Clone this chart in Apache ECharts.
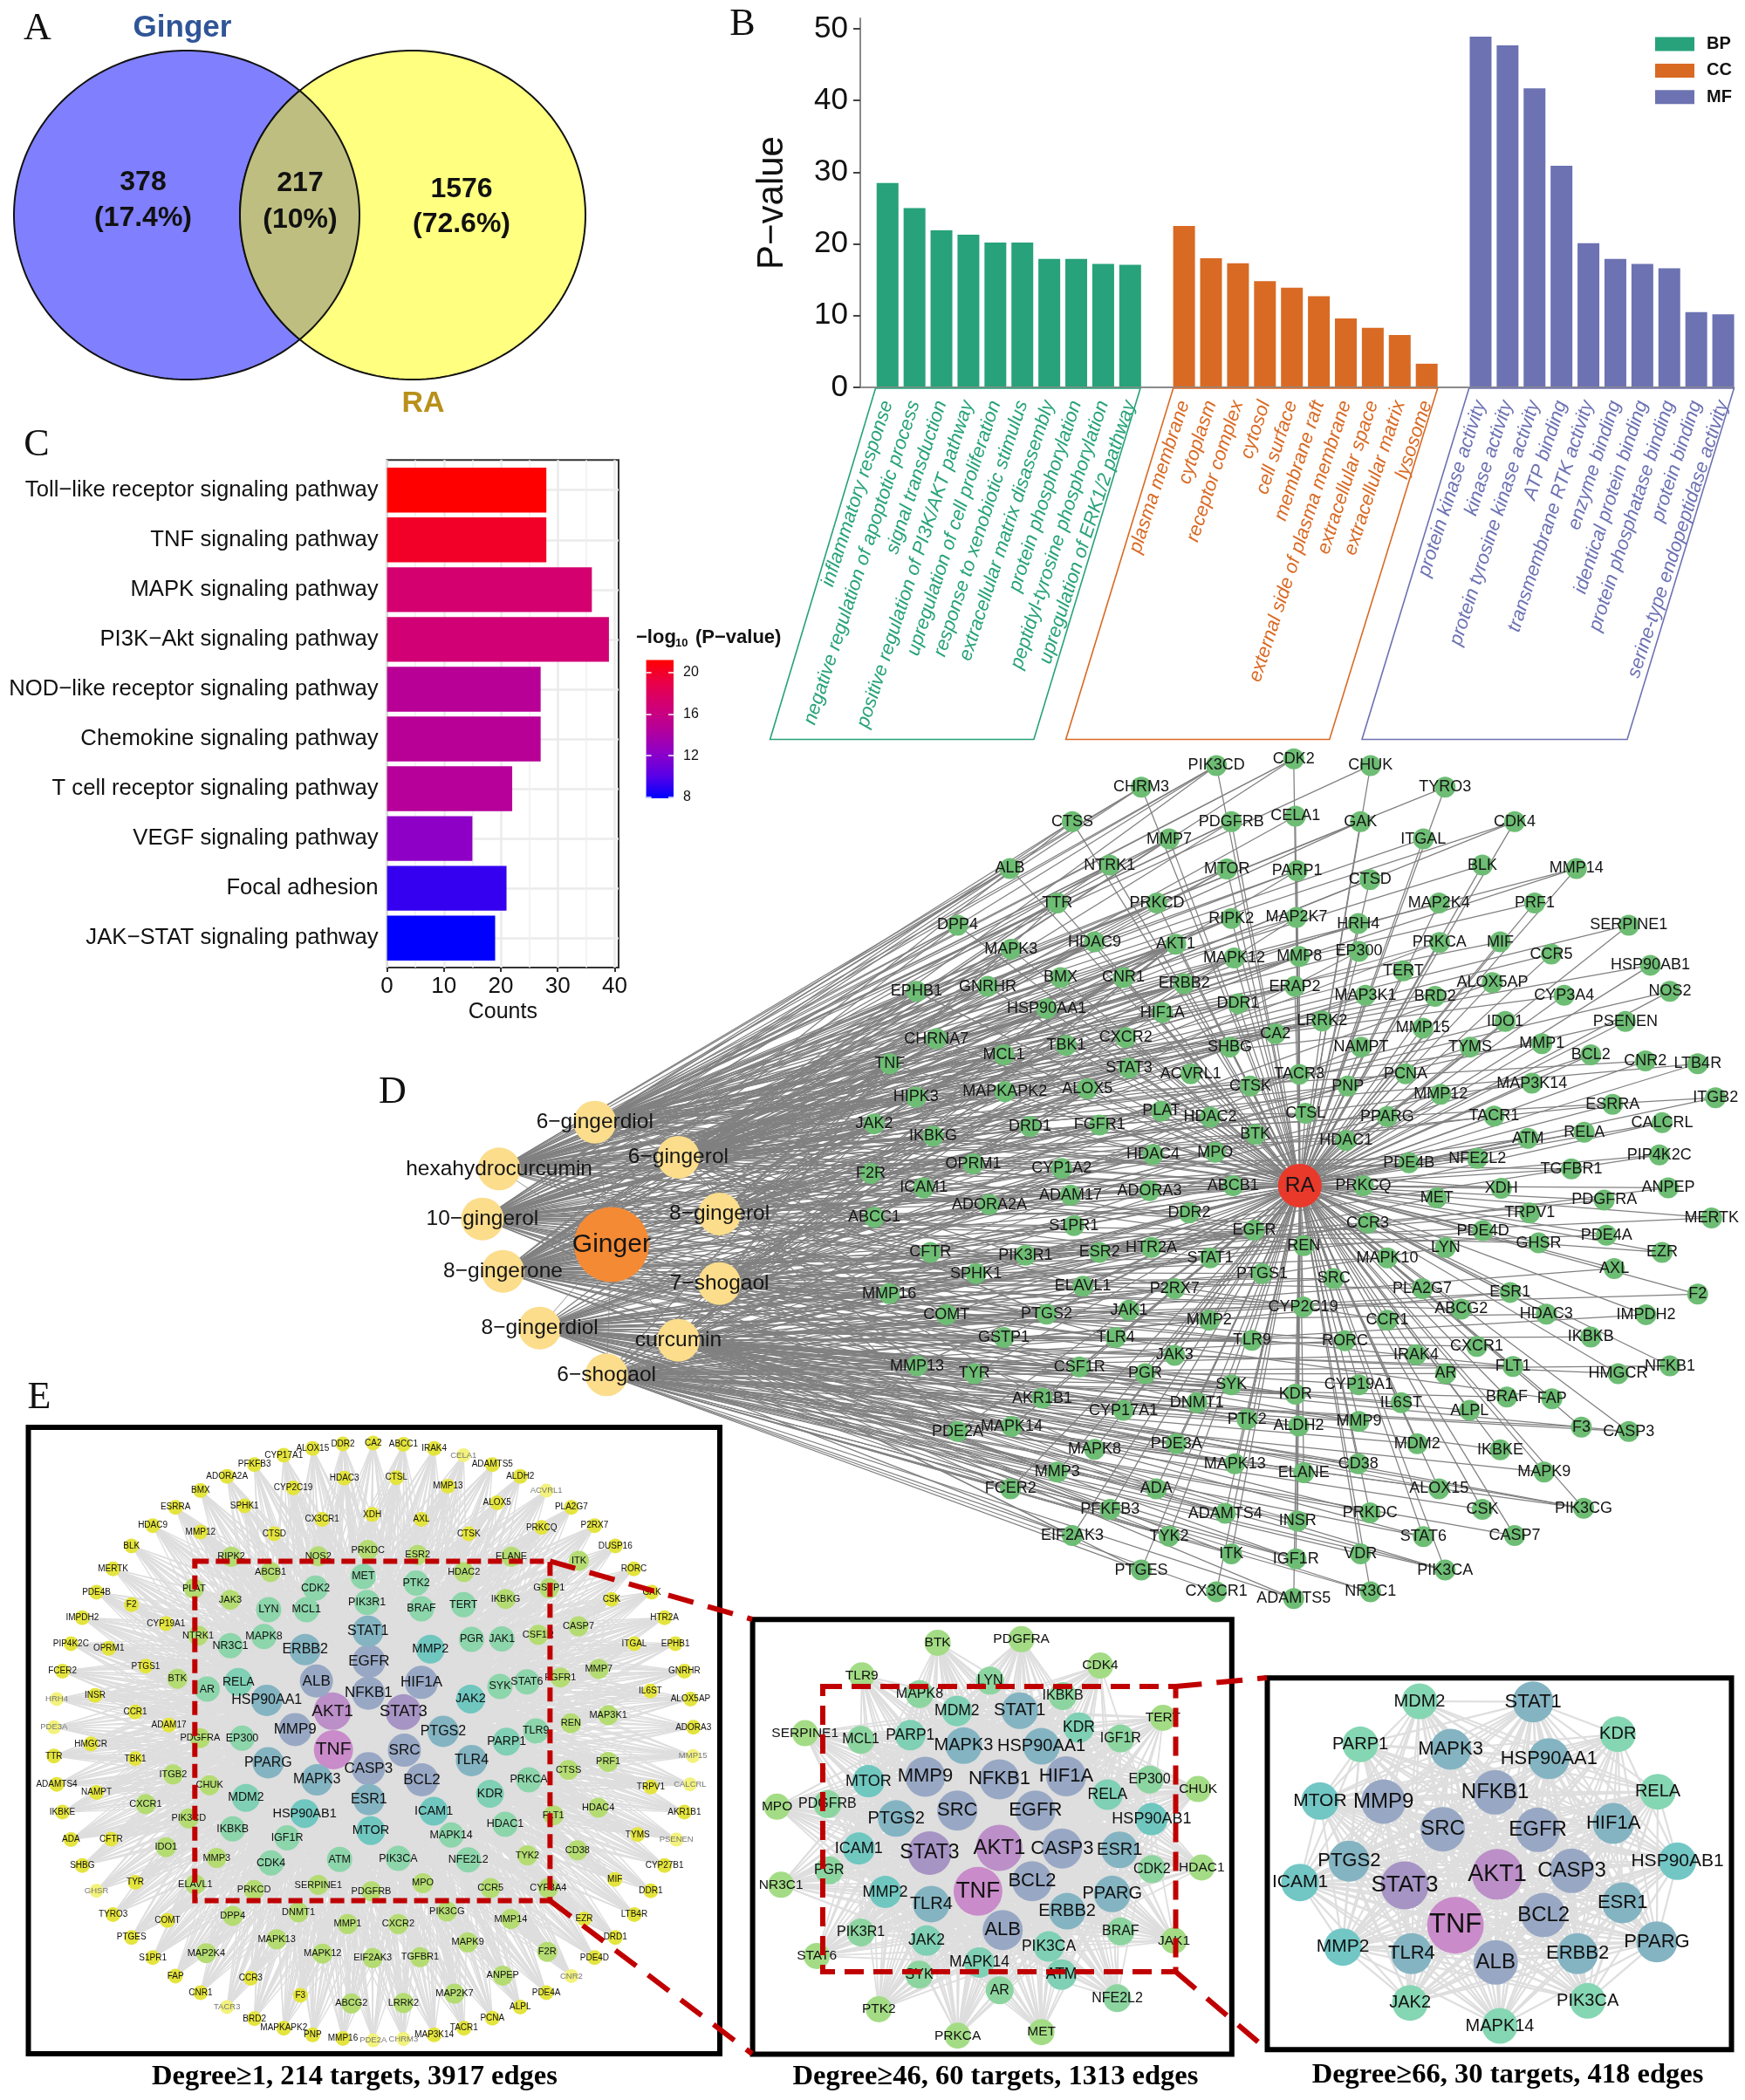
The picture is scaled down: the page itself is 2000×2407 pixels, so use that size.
<!DOCTYPE html>
<html><head><meta charset="utf-8">
<style>html,body{margin:0;padding:0;background:#fff}#c{width:2000px;height:2407px}</style>
<script src="https://cdn.jsdelivr.net/npm/echarts@6/dist/echarts.min.js"></script>
</head><body><div id="c"></div>
<script>
// ---------- Panel A ----------
const vennNames = ['Ginger', 'RA'];
const vennCounts = ['378', '1576', '217'];
const vennShares = ['(17.4%)', '(72.6%)', '(10%)'];
// ---------- Panel B ----------
const bpTerms = ['inflammatory response','negative regulation of apoptotic process','signal transduction','positive regulation of PI3K/AKT pathway','upregulation of cell proliferation','response to xenobiotic stimulus','extracellular matrix disassembly','protein phosphorylation','peptidyl-tyrosine phosphorylation','upregulation of ERK1/2 pathway'];
const bpValues = [28.5,25,21.9,21.3,20.2,20.2,17.9,17.9,17.2,17.1];
const ccTerms = ['plasma membrane','cytoplasm','receptor complex','cytosol','cell surface','membrane raft','external side of plasma membrane','extracellular space','extracellular matrix','lysosome'];
const ccValues = [22.5,18,17.3,14.8,13.9,12.7,9.6,8.3,7.3,3.3];
const mfTerms = ['protein kinase activity','kinase activity','protein tyrosine kinase activity','ATP binding','transmembrane RTK activity','enzyme binding','identical protein binding','protein phosphatase binding','protein binding','serine-type endopeptidase activity'];
const mfValues = [48.9,47.7,41.7,30.9,20.1,17.9,17.2,16.6,10.5,10.2];
const pTicks = [0,10,20,30,40,50];
// ---------- Panel C ----------
const pathways = ['Toll\u2212like receptor signaling pathway','TNF signaling pathway','MAPK signaling pathway','PI3K\u2212Akt signaling pathway','NOD\u2212like receptor signaling pathway','Chemokine signaling pathway','T cell receptor signaling pathway','VEGF signaling pathway','Focal adhesion','JAK\u2212STAT signaling pathway'];
const pathwayCounts = [28,28,36,39,27,27,22,15,21,19];
const pathwayLogP = [21.2,20,17,16.8,14.8,14.8,14.6,12.3,9.2,7.9];
const countTicks = [0,10,20,30,40];
const logPTicks = [8,12,16,20];
// ---------- Panel D ----------
const compounds = [['6\u2212gingerdiol',-499,684],['hexahydrocurcumin',-671,768],['6\u2212gingerol',-349,747],['10\u2212gingerol',-701,858],['8\u2212gingerol',-275,849],['8\u2212gingerone',-664,952],['7\u2212shogaol',-275,974],['8\u2212gingerdiol',-598,1054],['curcumin',-349,1076],['6\u2212shogaol',-478,1138]];
const gingerHub = ['Ginger',-469,904];
const raHub = ['RA',768,798];
// name, x, y, linked compounds (a..j = order of the compounds list)
const dTargets = [
['PIK3CD',618,43,'abcd'],['CDK2',757,31,'abf'],['CHUK',895,43,'a'],['TYRO3',1029,82,'b'],['CHRM3',483,82,'abd'],['CTSS',359,144,'adf'],['MMP7',533,175,'acd'],['PDGFRB',645,144,'abf'],['CELA1',760,134,'c'],['GAK',877,144,'bd'],['ITGAL',990,175,'a'],['CDK4',1154,144,'ac'],
['ALB',247,228,'abd'],['NTRK1',426,222,'abfd'],['MTOR',637,229,'abcf'],['PARP1',763,232,'aeb'],['CTSD',894,248,'c'],['BLK',1096,222,'b'],['MMP14',1265,228,'ad'],['TTR',332,290,'abcef'],['PRKCD',511,290,'acdb'],['RIPK2',645,318,'bcd'],['MAP2K7',762,316,'agc'],['HRH4',873,327,'d'],['MAP2K4',1018,290,'b'],['PRF1',1190,290,'a'],['SERPINE1',1359,330,'c'],
['DPP4',153,330,'abdf'],['MAPK3',249,373,'abcedf'],['HDAC9',399,360,'acfb'],['AKT1',545,364,'abcdefghij'],['MAPK12',650,389,'bdec'],['MMP8',767,386,'acf'],['EP300',874,377,'bg'],['PRKCA',1019,361,'ce'],['MIF',1128,360,'a'],['CCR5',1220,382,'d'],['HSP90AB1',1398,402,'b'],['NOS2',1433,449,'e'],['EPHB1',79,449,'abcd'],['GNRHR',207,440,'acdf'],['BMX',338,424,'bcfa'],['CNR1',451,424,'abed'],['ERBB2',560,435,'bcfiad'],['ERAP2',759,440,'adb'],['TERT',954,412,'c'],['ALOX5AP',1114,433,'bh'],['CYP3A4',1243,456,'a'],['MAP3K1',886,456,'de'],['BRD2',1011,458,'c'],
['HIF1A',521,487,'abdgfc'],['DDR1',657,471,'cea'],['HSP90AA1',313,480,'abdfice'],['PSENEN',1353,503,'f'],['IDO1',1137,503,'e'],['LRRK2',808,502,'bda'],['MMP15',989,515,'a'],['CHRNA7',115,534,'abef'],['MCL1',236,563,'bcfjad'],['TBK1',348,546,'adeb'],['CXCR2',455,532,'cfga'],['SHBG',642,549,'bhd'],['CA2',724,525,'adef'],['NAMPT',878,549,'i'],['TYMS',1074,549,'g'],['MMP1',1203,543,'c'],['BCL2',1291,563,'j'],['CNR2',1389,574,'a'],['LTB4R',1483,579,'b'],
['TNF',31,579,'abcdefghij'],['STAT3',461,587,'abcehfj'],['ACVRL1',572,597,'dfa'],['TACR3',767,598,'eb'],['PNP',854,619,'bh'],['PCNA',958,597,'f'],['MAP3K14',1185,614,'d'],['CTSK',679,619,'cgb'],['HIPK3',78,639,'bdea'],['MAPKAPK2',238,629,'acfgdh'],['ALOX5',386,624,'abjf'],['MMP12',1021,634,'h'],['ITGB2',1515,640,'c'],['ESRRA',1330,652,'d'],['PLAT',519,664,'efhb'],['HDAC2',607,675,'bcif'],['CTSL',778,668,'ad'],['PPARG',925,674,'bg'],['TACR1',1117,673,'e'],['CALCRL',1419,685,'i'],['JAK2',3,687,'acdfhbg'],['IKBKG',109,709,'bcgd'],['DRD1',283,692,'adfc'],['FGFR1',408,689,'ceid'],['BTK',688,706,'bdjf'],['ATM',1178,713,'f'],['RELA',1279,702,'g'],['HDAC1',851,717,'c'],
['HDAC4',504,742,'abhg'],['MPO',616,738,'dgf'],['PIP4K2C',1414,743,'h'],['OPRM1',181,759,'behd'],['CYP1A2',340,767,'acfibh'],['PDE4B',964,757,'d'],['NFE2L2',1087,749,'be'],['TGFBR1',1256,768,'c'],['F2R',-3,776,'abefid'],['ABCB1',648,798,'cfhd'],['ICAM1',92,802,'bdghf'],['ADORA3',498,807,'aejd'],['ADAM17',356,815,'cdif'],['PRKCQ',882,798,'f'],['MET',1014,820,'i'],['XDH',1130,803,'a'],['ANPEP',1430,802,'h'],['ADORA2A',210,832,'bfjd'],['PDGFRA',1315,824,'g'],['ABCC1',3,855,'acdghjbf'],['DDR2',569,847,'beid'],['S1PR1',362,870,'dfhg'],['CCR3',890,865,'j'],['TRPV1',1181,847,'g'],['MERTK',1508,856,'f'],
['EGFR',686,878,'adgijfh'],['PDE4D',1097,879,'h'],['PDE4A',1319,887,'f'],['GHSR',1197,901,'d'],['CFTR',104,918,'cfgibd'],['ESR2',408,918,'ehjf'],['HTR2A',501,909,'dgif'],['REN',775,906,'cfh'],['LYN',1030,909,'j'],['EZR',1419,918,'b'],['PIK3R1',275,923,'aghjfd'],['STAT1',607,928,'bfih'],['MAPK10',925,928,'g'],['AXL',1333,947,'i'],['SPHK1',186,956,'dehifb'],['PTGS1',700,956,'fjh'],['SRC',829,965,'gh'],['ELAVL1',378,979,'cgjh'],['P2RX7',543,983,'hif'],['PLA2G7',988,983,'f'],['ESR1',1146,990,'ij'],['F2',1483,993,'h'],['MMP16',30,992,'befhjd'],
['CYP2C19',774,1016,'dif'],['ABCG2',1058,1020,'g'],['COMT',133,1030,'cfgjhd'],['PTGS2',313,1029,'acfdghij'],['JAK1',461,1022,'fihj'],['MMP2',605,1040,'dgjh'],['CCR1',925,1040,'e'],['HDAC3',1211,1029,'h'],['IMPDH2',1390,1030,'j'],['GSTP1',236,1071,'fhidj'],['TLR4',437,1071,'bgjhf'],['TLR9',682,1076,'hif'],['RORC',849,1077,'gj'],['IKBKB',1291,1070,'i'],['JAK3',543,1103,'fhj'],['IRAK4',977,1102,'j'],['CXCR1',1086,1087,'h'],['MMP13',80,1122,'cdhijf'],['TYR',183,1136,'fgidh'],['CSF1R',372,1124,'dhjif'],['PGR',490,1136,'gijh'],['AR',1030,1136,'j'],['FLT1',1151,1123,'ig'],['NFKB1',1433,1122,'j'],['HMGCR',1340,1136,'h'],
['SYK',645,1156,'hijf'],['KDR',760,1173,'fjh'],['CYP19A1',874,1156,'i'],['BRAF',1140,1178,'j'],['FAP',1221,1181,'g'],['AKR1B1',305,1180,'eijhf'],['CYP17A1',451,1202,'dhij'],['DNMT1',583,1188,'gjh'],['IL6ST',950,1188,'h'],['ALPL',1073,1202,'i'],['F3',1274,1232,'j'],['CASP3',1359,1240,'hj'],['PTK2',673,1218,'ijh'],['ALDH2',766,1230,'hj'],['MMP9',874,1222,'fij'],['PDE2A',153,1240,'chijf'],['MAPK14',250,1231,'dijhf'],['MDM2',979,1262,'j'],['IKBKE',1128,1273,'i'],['PDE3A',546,1262,'hji'],['MAPK8',399,1272,'gijh'],['MAPK9',1207,1313,'j'],['MAPK13',651,1298,'ijh'],['ELANE',775,1314,'ij'],['CD38',873,1298,'hj'],['MMP3',332,1313,'hijf'],['FCER2',248,1343,'ijh'],['ADA',510,1343,'dji'],['ALOX15',1018,1343,'ij'],
['PFKFB3',427,1380,'ijh'],['ADAMTS4',634,1387,'hji'],['PRKDC',894,1386,'ij'],['CSK',1096,1380,'j'],['PIK3CG',1278,1378,'hij'],['INSR',764,1401,'ji'],['EIF2AK3',359,1427,'ijh'],['TYK2',533,1428,'hji'],['STAT6',990,1429,'ij'],['CASP7',1154,1427,'j'],['ITK',645,1460,'ji'],['IGF1R',761,1469,'ijh'],['VDR',877,1460,'j'],['PTGES',483,1489,'ij'],['PIK3CA',1029,1489,'hij'],['CX3CR1',618,1528,'j'],['ADAMTS5',757,1540,'ij'],['NR3C1',895,1528,'hj']];
// ---------- Panel E ----------
const e1Stats = {targets:214, edges:3917}, e2Stats = {targets:60, edges:1313}, e3Stats = {targets:30, edges:418};
const e1Tiers = [
[['TNF',705,788]],
[['AKT1',703,702]],
[['STAT3',853,704]],
[['SRC',855,789],['MMP9',624,743],['NFKB1',779,662],['CASP3',779,830],['BCL2',892,855],['HIF1A',891,638],['EGFR',780,591],['ALB',669,635]],
[['STAT1',778,524],['ERBB2',645,565],['HSP90AA1',564,678],['PTGS2',937,747],['TLR4',997,812],['MAPK3',670,855],['ESR1',780,899],['PPARG',567,817]],
[['MMP2',910,564],['JAK2',995,675],['ICAM1',917,925],['MTOR',784,968],['HSP90AB1',644,930]],
[['RELA',504,637],['PARP1',1071,770],['KDR',1036,886],['MDM2',520,895]],
[['PGR',997,542],['JAK1',1061,541],['MAPK8',558,536],['NR3C1',487,556],['MCL1',648,476],['LYN',568,476],['PIK3R1',776,460],['BRAF',891,474],['TERT',980,465],['SYK',1057,647],['STAT6',1114,637],['TLR9',1133,746],['PRKCA',1118,855],['MAPK14',954,978],['HDAC1',1068,954],['IKBKB',492,964],['IGF1R',607,984],['ATM',718,1032],['PIK3CA',842,1030],['NFE2L2',990,1033],['CDK4',573,1040],['AR',438,653],['EP300',512,762],['CDK2',667,428],['PTK2',880,417],['MET',768,402]],
[['ABCB1',572,392],['HDAC2',981,392],['JAK3',487,454],['IKBKG',1069,452],['CSF1R',1138,532],['NTRK1',419,534],['PDGFRA',423,762],['CHUK',443,867],['PIK3CD',399,941],['MMP3',458,1029],['ELAVL1',413,1088],['PRKCD',537,1100],['SERPINE1',673,1089],['PDGFRB',785,1103],['MPO',894,1085],['CCR5',1037,1096],['TYK2',1115,1023],['CYP3A4',1159,1096],['FLT1',1170,934],['FGFR1',1185,627],['REN',1207,729],['CTSS',1202,833],['HDAC4',1265,917],['CD38',1221,1012],['PRF1',1286,815],['MAP3K1',1286,711],['MMP7',1266,608],['CASP7',1223,513],['GSTP1',1161,428],['ITK',1224,367],['ELANE',1081,358],['ESR2',883,354],['PRKDC',778,343],['NOS2',673,357],['RIPK2',489,358],['PLAT',410,429],['BTK',375,630],['ITGB2',366,843],['CXCR1',308,909],['IDO1',351,1005],['DPP4',492,1158],['DNMT1',631,1150],['MMP1',735,1176],['CXCR2',842,1176],['PIK3CG',945,1148],['MMP14',1080,1165],['MAPK13',585,1210],['MAPK12',682,1242],['MAPK9',989,1217],['EIF2AK3',788,1252],['TGFBR1',888,1250],['F2R',1157,1238],['ANPEP',1063,1291],['MAP2K4',436,1241],['ABCG2',743,1353],['LRRK2',853,1352],['MAP2K7',961,1331]],
[['XDH',787,264],['CX3CR1',681,275],['AXL',891,275],['CTSD',580,307],['CTSK',991,307],['PRKCQ',1145,293],['ALOX5',1051,238],['MMP13',947,201],['CTSL',838,182],['HDAC3',728,183],['CYP2C19',620,205],['SPHK1',517,245],['MMP12',424,303],['HDAC9',323,289],['ESRRA',371,248],['BMX',424,211],['ADORA2A',480,179],['PFKFB3',538,153],['CYP17A1',600,132],['ALOX15',661,117],['DDR2',725,107],['CA2',789,105],['ABCC1',853,108],['IRAK4',918,117],['ADAMTS5',1041,153],['ALDH2',1100,179],['PLA2G7',1208,248],['P2RX7',1257,289],['DUSP16',1301,334],['RORC',1340,385],['GAK',1378,437],['HTR2A',1405,494],['EPHB1',1428,552],['GNRHR',1447,613],['ALOX5AP',1460,675],['ADORA3',1466,738],['AKR1B1',1447,927],['CYP27B1',1405,1046],['DDR1',1376,1102],['LTB4R',1341,1155],['DRD1',1301,1206],['PDE4D',1257,1251],['PDE4A',1155,1329],['ALPL',1100,1361],['PCNA',1041,1386],['TACR1',981,1408],['MAP3K14',918,1423],['MMP16',725,1431],['PNP',661,1423],['MAPKAPK2',600,1408],['BRD2',538,1387],['CNR1',424,1329],['FAP',371,1292],['S1PR1',323,1251],['PTGES',278,1206],['TYRO3',239,1155],['SHBG',174,1046],['ADA',150,988],['IKBKE',132,927],['ADAMTS4',120,865],['TTR',114,802],['FCER2',132,613],['PIP4K2C',150,552],['IMPDH2',174,494],['PDE4B',204,437],['MERTK',239,385],['BLK',278,334],['F2',278,465],['CSK',1293,453],['CYP19A1',351,507],['OPRM1',230,562],['PTGS1',308,602],['INSR',201,667],['CCR1',286,704],['ADAM17',357,733],['HMGCR',192,775],['TBK1',286,808],['NAMPT',204,883],['CFTR',235,987],['TYR',286,1083],['COMT',354,1168],['CCR3',530,1297],['F3',635,1335],['TRPV1',1376,871],['TYMS',1348,977],['MIF',1300,1077],['EZR',1235,1165],['IL6ST',1375,657],['ITGAL',1341,552]],
[['CELA1',980,132],['ACVRL1',1155,211],['MMP15',1465,802],['CALCRL',1459,865],['PSENEN',1430,988],['CNR2',1208,1292],['CHRM3',853,1432],['PDE2A',789,1435],['TACR3',480,1361],['GHSR',204,1102],['PDE3A',114,738],['HRH4',120,675]]
];
const e2Tiers = [
[['TNF',708,929]],
[['AKT1',772,796]],
[['STAT3',563,812]],
[['CASP3',960,798],['SRC',646,682],['EGFR',880,682],['BCL2',870,898],['MMP9',550,578],['NFKB1',772,586],['ALB',782,1048],['HIF1A',972,577]],
[['ESR1',1132,802],['PTGS2',463,706],['ERBB2',975,990],['TLR4',568,968],['MAPK3',665,483],['HSP90AA1',898,485],['STAT1',833,376],['PPARG',1110,937]],
[['MTOR',380,592],['ICAM1',351,798],['MMP2',430,931],['HSP90AB1',1228,708]],
[['RELA',1096,633],['KDR',1010,428],['PARP1',505,451],['MDM2',645,377],['JAK2',554,1080],['PIK3CA',920,1098],['MAPK14',712,1147],['ATM',958,1184]],
[['MAPK8',533,325],['MCL1',357,465],['IGF1R',1135,461],['EP300',1222,587],['IKBKB',962,331],['LYN',744,284],['PDGFRB',257,662],['PGR',262,865],['SYK',532,1184],['AR',773,1232],['CDK2',1229,861],['BRAF',1135,1052],['PIK3R1',357,1055],['NFE2L2',1125,1256]],
[['BTK',587,168],['PDGFRA',838,157],['CDK4',1074,238],['TLR9',360,268],['TERT',1262,398],['CHUK',1367,616],['HDAC1',1378,856],['JAK1',1295,1080],['MET',898,1360],['PRKCA',647,1371],['PTK2',411,1290],['STAT6',225,1127],['NR3C1',118,909],['MPO',106,670],['SERPINE1',190,445]]
];
const e3Tiers = [
[['TNF',655,920]],
[['AKT1',787,745]],
[['STAT3',495,783]],
[['CASP3',1022,733],['BCL2',933,885],['SRC',615,590],['EGFR',915,592],['NFKB1',780,463],['MMP9',428,495],['ALB',782,1048]],
[['HIF1A',1153,570],['ESR1',1182,843],['PTGS2',320,700],['ERBB2',1040,1018],['TLR4',517,1018],['PPARG',1290,977],['MAPK3',640,315],['HSP90AA1',950,347],['STAT1',900,152]],
[['HSP90AB1',1355,700],['ICAM1',165,773],['MTOR',228,493],['MMP2',300,995]],
[['RELA',1293,461],['KDR',1167,263],['PARP1',355,298],['MDM2',542,150],['JAK2',512,1187],['PIK3CA',1072,1180],['MAPK14',795,1266]]
];
const captions = ['Degree\u22651, 214 targets, 3917 edges','Degree\u226546, 60 targets, 1313 edges','Degree\u226566, 30 targets, 418 edges'];

// ---------- styling ----------
const SANS = '"Liberation Sans", Arial, sans-serif', SERIF = '"Liberation Serif", "Times New Roman", serif';
const COL = {BP:'#27A27A', CC:'#D96A24', MF:'#6D72B2'};
const heat = ['#0000FF','#5B00E6','#8F00C6','#B5009A','#D10075','#E9004A','#FF0000'];
const logMin = 7.9, logMax = 21.2;
const tierColE1 = ['#C98BC9','#BC8FC8','#A694C4','#98A8C4','#84B4C2','#6FC7C0','#7FD0B5','#8DD5AB','#B4DC72','#E4E43E','#F2F27C'];
const tierColE2 = ['#C98BC9','#BC8FC8','#A694C4','#98A8C4','#84B4C2','#6FC7C0','#7FD0B5','#8DD5A0','#A3DC85'];
const tierColE3 = ['#C98BC9','#BC8FC8','#A694C4','#98A8C4','#84B4C2','#72C7C5','#85D6B3'];
const e1TextCol = ['#111','#111','#111','#111','#111','#111','#111','#111','#111','#111','#777'];

const chart = echarts.init(document.getElementById('c'), null, {renderer:'canvas', width:2000, height:2407});

// B category axis: three groups separated by one empty slot
const bCats = [...bpTerms, '', ...ccTerms, ' ', ...mfTerms];
const pad = n => Array(n).fill(null);
const bSeries = [['BP',[...bpValues,...pad(22)]],['CC',[...pad(11),...ccValues,...pad(11)]],['MF',[...pad(22),...mfValues]]];
function catColour(v,i){ return i<10?COL.BP:(i<21?COL.CC:COL.MF); }

function hiddenGrid(left,top,width,height){ return {left,top,width,height}; }
const grids = [
 hiddenGrid(0,0,720,480),              //0 venn
 {left:1001.8,top:21,width:988.7,height:423}, //1 B
 {left:443.6,top:527.3,width:265.4,height:581.7,show:true,borderColor:'#333',borderWidth:2,backgroundColor:'#fff'}, //2 C frame
 {left:443.6,top:533.2,width:265.4,height:570.5}, //3 C bars
 {left:740.6,top:756.4,width:31.4,height:158.6}, //4 C scale
 hiddenGrid(400,850,1600,1000), //5 D
 hiddenGrid(0,1600,850,807),    //6 E1
 hiddenGrid(850,1820,600,587),  //7 E2
 hiddenGrid(1430,1900,570,507)  //8 E3
];
const hx=(g,min,max)=>({gridIndex:g,type:'value',min,max,show:false});
const hy=(g,min,max)=>({gridIndex:g,type:'value',min,max,inverse:true,show:false});
const xAxes = [
 hx(0,0,720),
 {gridIndex:1,type:'category',data:bCats,axisLine:{show:false},splitLine:{show:false},
  axisTick:{alignWithLabel:true,length:8,lineStyle:{color:'#222',width:2},interval:(i,v)=>v.trim()!==''},
  axisLabel:{interval:0,rotate:72,margin:16,fontSize:22,fontStyle:'italic',fontFamily:SANS,color:catColour,hideOverlap:false,padding:[0,0,12,0]}},
 {gridIndex:2,type:'value',min:0,max:40.7,interval:10,position:'bottom',axisLine:{show:false},
  axisTick:{customValues:countTicks,length:5,lineStyle:{color:'#333',width:2}},
  axisLabel:{customValues:countTicks,fontSize:26,fontFamily:SANS,color:'#111',margin:9},
  splitLine:{show:true,lineStyle:{color:'#EBEBEB',width:2.5}},
  minorTick:{show:false,splitNumber:2},minorSplitLine:{show:true,lineStyle:{color:'#F0F0F0',width:1.5}},
  name:'Counts',nameLocation:'middle',nameGap:39,nameTextStyle:{fontSize:25,fontFamily:SANS,color:'#111'}},
 {gridIndex:3,type:'value',min:0,max:40.7,show:false},
 {gridIndex:4,type:'category',data:['scale'],show:false},
 hx(5,-940.8,1568),hx(6,0,1568),hx(7,0,1568),hx(8,0,1568)
];
const yAxes = [
 hy(0,0,480),
 {gridIndex:1,type:'value',min:0,max:51.46,interval:10,offset:15.8,
  axisLine:{show:true,lineStyle:{color:'#8a8a8a',width:2}},
  axisTick:{show:true,customValues:pTicks,length:8,lineStyle:{color:'#444',width:2}},
  axisLabel:{customValues:pTicks,fontSize:35,fontFamily:SANS,color:'#111',margin:14},splitLine:{show:false},
  name:'P\u2212value',nameLocation:'middle',nameGap:80,nameRotate:90,nameTextStyle:{fontSize:42,fontFamily:SANS,color:'#111'}},
 {gridIndex:2,type:'value',min:0,max:1,show:false},
 {gridIndex:3,type:'category',data:pathways,inverse:true,axisLine:{show:false},
  axisTick:{alignWithLabel:true,length:5,lineStyle:{color:'#333',width:2}},
  axisLabel:{fontSize:25.7,fontFamily:SANS,color:'#111',margin:10,interval:0},
  splitLine:{show:true,alignWithLabel:true,lineStyle:{color:'#EBEBEB',width:2.5}}},
 {gridIndex:4,type:'value',min:logMin,max:logMax,position:'left',z:10,axisLine:{show:false},axisLabel:{show:false},splitLine:{show:false},
  axisTick:{show:true,inside:true,length:6,customValues:logPTicks,lineStyle:{color:'#fff',width:1.5}}},
 {gridIndex:4,type:'value',min:logMin,max:logMax,position:'right',z:10,axisLine:{show:false},splitLine:{show:false},
  axisTick:{show:true,inside:true,length:6,customValues:logPTicks,lineStyle:{color:'#fff',width:1.5}},
  axisLabel:{customValues:logPTicks,fontSize:16,fontFamily:SANS,color:'#111',margin:11}},
 hy(5,0,1568),hy(6,0,1568),hy(7,0,1568),hy(8,0,1521)
];
// y axis index of each network grid (grid 4 holds two y axes)
const netAxis = {D:{x:5,y:6},E1:{x:6,y:7},E2:{x:7,y:8},E3:{x:8,y:9}};

// Venn geometry
const venn = {y:246.5, rx:198, ry:188.5, cx:[214,473], mid:343.5};
function ellipsePts(cx){ const p=[]; for(let k=0;k<240;k++){const t=k/240*2*Math.PI;p.push([cx+venn.rx*Math.cos(t),venn.y+venn.ry*Math.sin(t)]);} return p; }
function lensPts(){ const p=[],d=(venn.cx[1]-venn.cx[0])/2,a=Math.acos(d/venn.rx);
 for(let k=0;k<=90;k++){const t=-a+2*a*k/90;p.push([venn.cx[0]+venn.rx*Math.cos(t),venn.y+venn.ry*Math.sin(t)]);}
 for(let k=0;k<=90;k++){const t=Math.PI-a+2*a*k/90;p.push([venn.cx[1]+venn.rx*Math.cos(t),venn.y+venn.ry*Math.sin(t)]);}
 return p; }
const vennFill=['#8080FF','#FFFF80','#BEBE80'];
const vennAnchor=[[164,209,250],[529,217,257],[344,210,252]];
function vennRender(params,api){
 const i=params.dataIndex;
 const pts=(i<2?ellipsePts(venn.cx[i]):lensPts()).map(q=>api.coord(q));
 const a=vennAnchor[i];
 return {type:'group',children:[
  {type:'polygon',shape:{points:pts},style:{fill:vennFill[i],stroke:'#111',lineWidth:2}},
  {type:'text',x:a[0],y:a[1],style:{text:vennCounts[i],fill:'#111',font:'bold 32px '+SANS,textAlign:'center',textVerticalAlign:'middle'}},
  {type:'text',x:a[0],y:a[2],style:{text:vennShares[i],fill:'#111',font:'bold 32px '+SANS,textAlign:'center',textVerticalAlign:'middle'}}
 ]};
}

// D network
function buildD(){
 const nodes=[],links=[];
 compounds.forEach(c=>nodes.push({id:'c'+nodes.length,name:c[0],value:[c[1],c[2]],symbolSize:49,itemStyle:{color:'#FBDD8C'},label:{fontSize:24.5}}));
 nodes.push({id:'g',name:gingerHub[0],value:[gingerHub[1],gingerHub[2]],symbolSize:86,itemStyle:{color:'#F58A35'},label:{fontSize:30}});
 const gi=nodes.length-1;
 nodes.push({id:'r',name:raHub[0],value:[raHub[1],raHub[2]],symbolSize:50,itemStyle:{color:'#E8392B'},label:{fontSize:24.5}});
 const ri=nodes.length-1;
 compounds.forEach((c,i)=>links.push({source:gi,target:i,lineStyle:{width:0.8}}));
 dTargets.forEach(t=>{
  const idx=nodes.length;
  nodes.push({id:'t'+idx,name:t[0],value:[t[1],t[2]],symbolSize:24,itemStyle:{color:'#6DBD74'},label:{fontSize:18}});
  links.push({source:idx,target:ri});
  for(const ch of t[3]) links.push({source:ch.charCodeAt(0)-97,target:idx});
 });
 return {nodes,links};
}
const dNet=buildD();

// E network: links run from the highest-ranked nodes outward until the stated edge count is reached
function buildE(tiers,stats,sizes,fonts,cols,textCols){
 const nodes=[];
 tiers.forEach((tier,ti)=>tier.forEach(n=>nodes.push({id:n[0]+nodes.length,name:n[0],value:[n[1],n[2]],symbolSize:sizes[ti],itemStyle:{color:cols[ti]},label:{fontSize:fonts[ti],color:textCols?textCols[ti]:'#111'}})));
 const links=[];
 outer: for(let j=0;j<nodes.length;j++){ for(let i=nodes.length-1;i>j;i--){ if(links.length>=stats.edges) break outer; links.push({source:i,target:j}); } }
 return {nodes,links};
}
const e1=buildE(e1Tiers,e1Stats,[45,43,41,38,36,33,32,29,23,17,16],[21,19,18.5,17,16,14.5,14,12.5,11,10,9.5],tierColE1,e1TextCol);
const e2=buildE(e2Tiers,e2Stats,[56,53,50,46,42,37,35,32,30],[26,24,23,22,20,18,17.5,16,15.5],tierColE2);
const e3=buildE(e3Tiers,e3Stats,[65,58,55,51,47,43,41],[31,27,26,24,22,21,20],tierColE3);

function graphSeries(net,axis,lineColor,lineWidth,textColor){
 return {type:'graph',coordinateSystem:'cartesian2d',xAxisIndex:axis.x,yAxisIndex:axis.y,silent:true,animation:false,
  data:net.nodes,links:net.links,edgeSymbol:['none','none'],symbol:'circle',
  lineStyle:{color:lineColor,width:lineWidth,opacity:1,curveness:0},
  itemStyle:{borderWidth:0,opacity:1},
  label:{show:true,position:'inside',color:textColor,fontFamily:SANS},
  emphasis:{disabled:true},z:3};
}

const series = [
 {type:'custom',xAxisIndex:0,yAxisIndex:0,coordinateSystem:'cartesian2d',data:[[0,0],[0,0],[0,0]],renderItem:vennRender,silent:true,clip:false},
 ...bSeries.map(s=>({name:s[0],type:'bar',xAxisIndex:1,yAxisIndex:1,stack:'go',barWidth:25,data:s[1],itemStyle:{color:COL[s[0]]},silent:true})),
 {type:'bar',xAxisIndex:3,yAxisIndex:3,data:pathwayCounts.map((v,i)=>({value:v,itemStyle:{color:echarts.color.lerp((pathwayLogP[i]-logMin)/(logMax-logMin),heat)}})),barWidth:51.4,silent:true},
 {type:'bar',xAxisIndex:4,yAxisIndex:4,data:[logMax],barWidth:'100%',silent:true,
  itemStyle:{color:new echarts.graphic.LinearGradient(0,0,0,1,heat.slice().reverse().map((c,i)=>({offset:i/(heat.length-1),color:c})))}},
 graphSeries(dNet,netAxis.D,'#808080',1.25,'#151515'),
 graphSeries(e1,netAxis.E1,'#DEDEDE',1.4,'#111'),
 graphSeries(e2,netAxis.E2,'#DEDEDE',1.8,'#111'),
 graphSeries(e3,netAxis.E3,'#DEDEDE',2.2,'#111')
];

// annotations
const txt=(x,y,text,font,fill,align)=>({type:'text',x,y,z:50,silent:true,style:{text,font,fill:fill||'#111',textAlign:align||'center',textVerticalAlign:'middle'}});
const poly=(pts,color)=>({type:'polyline',z:40,silent:true,shape:{points:pts.concat([pts[0]])},style:{fill:null,stroke:color,lineWidth:1.6}});
const frame=(x0,y0,x1,y1)=>({type:'rect',z:60,silent:true,shape:{x:x0,y:y0,width:x1-x0,height:y1-y0},style:{fill:null,stroke:'#000',lineWidth:6}});
const dashRect=(x0,y0,x1,y1,d)=>({type:'rect',z:61,silent:true,shape:{x:x0,y:y0,width:x1-x0,height:y1-y0},style:{fill:null,stroke:'#C00000',lineWidth:6,lineDash:d}});
const dashLine=(x0,y0,x1,y1)=>({type:'line',z:61,silent:true,shape:{x1:x0,y1:y0,x2:x1,y2:y1},style:{stroke:'#C00000',lineWidth:6,lineDash:[30,17]}});
const graphicEls=[
 txt(43,33,'A','44px '+SERIF,'#111'),txt(851,28,'B','44px '+SERIF,'#111'),txt(42,510,'C','44px '+SERIF,'#111'),txt(450,1252,'D','44px '+SERIF,'#111'),txt(45,1602,'E','44px '+SERIF,'#111'),
 txt(209,32,vennNames[0],'bold 35px '+SANS,'#2F5597'),txt(485,463,vennNames[1],'bold 34px '+SANS,'#B8901A'),
 {type:'line',z:5,silent:true,shape:{x1:986,y1:444,x2:1988,y2:444},style:{stroke:'#8a8a8a',lineWidth:2}},
 poly([[1003.5,445],[882.6,847.5],[1184.9,847.5],[1307,445]],COL.BP),
 poly([[1344.7,445],[1221.6,847.5],[1523.8,847.5],[1647.7,445]],COL.CC),
 poly([[1683.7,445],[1561,847.5],[1865,847.5],[1987.4,445]],COL.MF),
 txt(729,731,'\u2212log','bold 22px '+SANS,'#111','left'),txt(774,737,'10','bold 13px '+SANS,'#111','left'),txt(797,731,'(P\u2212value)','bold 22px '+SANS,'#111','left'),
 frame(32.5,1636,825,2354),frame(862.6,1856.3,1411.8,2354.6),frame(1452.5,1923.3,1984.5,2349.3),
 dashRect(223.3,1789.4,630.4,2178.5,[16,8]),dashRect(943,1933,1347.5,2260,[22,11]),
 dashLine(630.4,1789.4,862,1856),dashLine(630.4,2178.5,862,2354),dashLine(1347.5,1933,1452,1923),dashLine(1347.5,2260,1452,2349),
 txt(406.5,2381,captions[0],'bold 32.5px '+SERIF,'#000'),txt(1141,2380.5,captions[1],'bold 32.5px '+SERIF,'#000'),txt(1728,2379,captions[2],'bold 32.5px '+SERIF,'#000')
];

chart.setOption({
 animation:false,backgroundColor:'#fff',
 legend:{data:['BP','CC','MF'],orient:'vertical',left:1892,top:35.5,itemWidth:45,itemHeight:16,itemGap:10.4,icon:'rect',selectedMode:false,
  textStyle:{fontSize:20,fontWeight:'bold',fontFamily:SANS,color:'#111',padding:[0,0,0,9]}},
 grid:grids,xAxis:xAxes,yAxis:yAxes,series,graphic:{elements:graphicEls}
});
</script></body></html>
